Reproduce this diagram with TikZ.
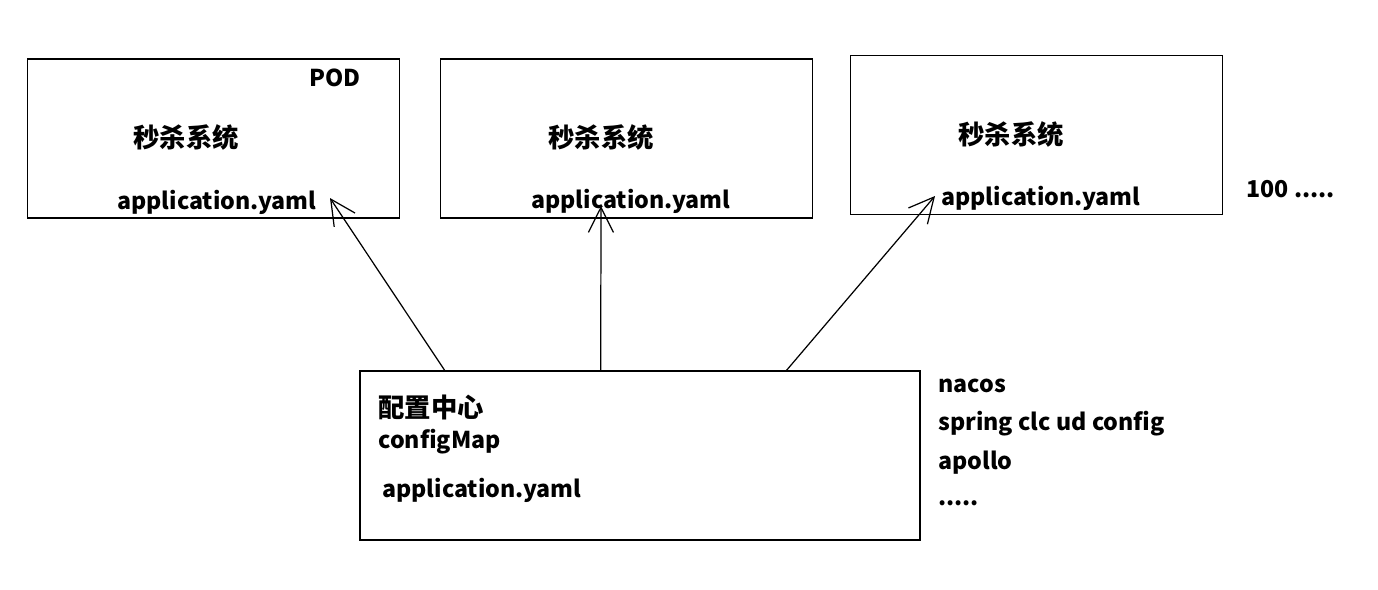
\documentclass[tikz,border=0pt]{standalone}
\usepackage{fontspec}
\setmainfont{Noto Sans CJK SC}
\usetikzlibrary{arrows.meta,calc}

\tikzset{
  podbox/.style={draw, line width=0.7pt, minimum width=74.4mm, minimum height=31.8mm, inner sep=0pt},
  lbl/.style={anchor=west, inner sep=0pt, font=\bfseries\fontsize{13.2pt}{16pt}\selectfont},
  cjklbl/.style={lbl, font=\bfseries\fontsize{15pt}{18pt}\selectfont},
  push/.style={-{Straight Barb[length=5mm, width=5mm, line width=0.7pt]}, line width=0.7pt}
}

\begin{document}
\begin{tikzpicture}[x=0.2mm, y=-0.2mm]
  \useasboundingbox (0,0) rectangle (1378,589);

  % three pods
  \node[podbox] (pod1) at (213.5,138.5) {};
  \node[podbox] (pod2) at (626.5,138.5) {};
  \node[podbox] (pod3) at (1036.5,135) {};

  \node[lbl] (podname) at (309,78) {POD};
  \node[cjklbl] (sys1) at (133,137) {秒杀系统};
  \node[lbl] (app1) at (117,202) {application.yaml};
  \node[cjklbl] (sys2) at (548,137) {秒杀系统};
  \node[lbl] (app2) at (531,201) {application.yaml};
  \node[cjklbl] (sys3) at (958,134) {秒杀系统};
  \node[lbl] (app3) at (941,198) {application.yaml};
  \node[lbl] (more) at (1246,189) {100 .....};

  % config centre
  \node[draw, line width=0.7pt, minimum width=112mm, minimum height=33.8mm, inner sep=0pt] (cfg) at (640,455.5) {};
  \node[cjklbl] (cfgname) at (378,407) {配置中心};
  \node[lbl] (cfgmap) at (378,442) {configMap};
  \node[lbl] (cfgapp) at (382,490) {application.yaml};

  \node[lbl] (nacos) at (938,386) {nacos};
  \node[lbl] (spring) at (938,424) {spring clc ud config};
  \node[lbl] (apollo) at (938,463) {apollo};
  \node[lbl] (etc) at (938,503) {.....};

  % pushes
  \coordinate (tip1) at (330,198);
  \coordinate (tip2) at (601,206);
  \coordinate (tip3) at (935,196);
  \draw[push] ($(cfg.north west)!0.152!(cfg.north east)$) -- (tip1);
  \draw[push] ($(cfg.north west)!0.430!(cfg.north east)$) -- (tip2);
  \draw[push] ($(cfg.north west)!0.761!(cfg.north east)$) -- (tip3);
\end{tikzpicture}
\end{document}
